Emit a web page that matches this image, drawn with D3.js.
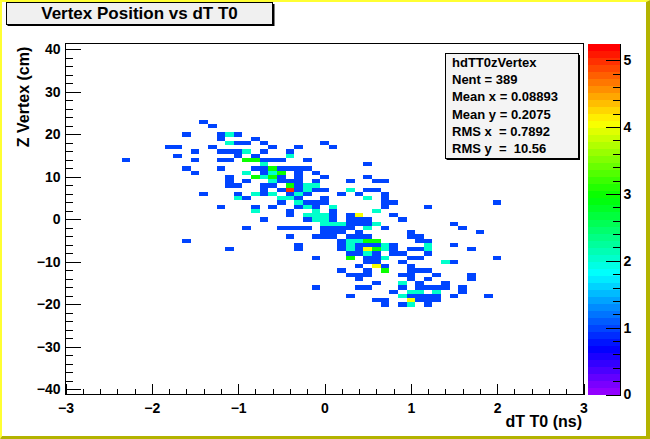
<!DOCTYPE html>
<html><head><meta charset="utf-8">
<script src="https://cdn.jsdelivr.net/npm/d3@7"></script>
<style>
html,body{margin:0;padding:0;background:#fff;}
svg{display:block;}
text{font-family:"Liberation Sans",Arial,Helvetica,sans-serif;font-weight:bold;fill:#000;}
</style></head><body>
<svg id="c" width="650" height="439"></svg>
<script>
// ---- data (bin centres: x in ns, y in cm, entries per bin) ----
const rowY = [23,22,20,19,18,17,16,15,14,13,12,11,10,9,8,7,6,5,4,3,2,1,0,-1,-2,-3,-4,-5,-6,-7,-8,-9,-10,-11,-12,-13,-14,-15,-16,-17,-18,-19,-20];
const rowX = [
 [-1.4],
 [-1.3],
 [-1.6,-1.2,-1.1,-1.0],
 [-1.2,-0.8],
 [-1.1,-1.0,-0.9,-0.7,0.0],
 [-1.8,-1.7,-1.3,-0.6,-0.3,0.1],
 [-1.5,-1.2,-1.1,-1.0,-0.9,-0.7,-0.4],
 [-1.7,-1.0,-0.8,-0.4],
 [-2.3,-1.5,-1.2,-1.1,-0.9,-0.8,-0.7,-0.6,-0.5,-0.2],
 [-0.7,0.5],
 [-1.6,-1.2,-0.8,-0.7,-0.6,-0.5,-0.4,-0.3,-0.2],
 [-1.5,-0.9,-0.7,-0.6,-0.5,-0.3,-0.1],
 [-1.1,-0.8,-0.7,-0.6,-0.5,-0.3,0.0,0.5],
 [-1.1,-0.9,-0.6,-0.5,-0.4,-0.3,-0.1,0.3,0.6,0.7],
 [-1.1,-1.0,-0.7,-0.6,-0.4,-0.3,-0.2,-0.1],
 [-0.7,-0.5,-0.4,-0.3,-0.2,-0.1,0.0,0.3,0.5,0.6],
 [-1.4,-1.0,-0.8,-0.7,-0.6,-0.4,-0.3,-0.2,0.2,0.4,0.7],
 [-1.0,-0.9,-0.5,-0.4,-0.3,0.0,0.5,0.7],
 [-0.5,-0.3,-0.2,-0.1,0.0,0.7,0.8,2.0],
 [-1.2,-0.8,-0.6,-0.3,-0.2,-0.1,0.1,0.7,1.2],
 [-0.8,-0.4,-0.1,0.1,0.6],
 [-0.4,-0.2,-0.1,0.0,0.1,0.3,0.4,0.8],
 [-0.7,-0.2,-0.1,0.0,0.1,0.3,0.4,0.5,0.9],
 [0.0,0.1,0.2,0.3,0.4,0.5,0.6,1.5],
 [-0.9,-0.5,-0.4,-0.3,-0.2,0.0,0.1,0.2,0.3,0.5,0.7,1.6],
 [0.0,0.1,0.2,0.4,1.0,1.8],
 [-0.4,-0.1,0.0,0.1,0.3,0.4,0.5,1.0,1.1],
 [-1.6,0.2,0.3,0.4,0.5,0.6,1.1,1.2],
 [-0.3,0.2,0.3,0.4,0.5,0.6,0.7,0.8,1.2,1.5],
 [-1.1,-0.3,0.2,0.3,0.4,0.5,0.6,0.7,0.8,1.0,1.1,1.2,1.7],
 [0.3,0.4,0.5,0.6,0.8,0.9,1.2],
 [-0.1,0.3,0.5,0.6,0.7,1.0,1.1,2.0],
 [0.5,0.6,0.9,1.4,1.5],
 [0.4,0.6,0.7,1.0],
 [0.2,0.5,0.7,1.0,1.1,1.2],
 [0.3,0.4,0.5,0.9,1.0,1.3,1.7],
 [0.4,1.0,1.2,1.7],
 [0.6,0.9,1.1,1.4],
 [-0.1,0.4,0.5,0.9,1.1,1.2,1.3,1.4,1.6],
 [0.8,1.0,1.1,1.3,1.6],
 [0.3,0.9,1.0,1.1,1.2,1.3,1.5,1.9],
 [0.6,0.7,1.0,1.1,1.2,1.3],
 [0.7,0.9,1.0,1.2]
];
const rowN = [
 [1],
 [1],
 [1,1,2,1],
 [1,1],
 [2,1,1,1,1],
 [1,1,1,1,1,1],
 [1,1,1,1,2,1,1],
 [1,1,1,2],
 [1,1,1,1,3,3,1,1,1,1],
 [2,1],
 [1,1,1,1,3,1,1,1,1],
 [1,2,1,2,3,1,1],
 [1,3,2,3,1,1,1,1],
 [1,1,2,1,1,1,1,1,1,1],
 [1,1,1,1,3,1,2,2],
 [1,1,5,1,2,1,1,2,1,1],
 [1,1,2,1,2,1,2,1,1,1,1],
 [2,1,2,2,1,1,2,1],
 [1,2,1,1,1,1,1,1],
 [1,1,1,1,2,1,2,1,1],
 [2,1,2,1,2],
 [1,2,2,2,1,1,4,1],
 [1,1,2,2,1,1,1,1,1],
 [2,2,2,1,1,1,2,1],
 [1,1,1,1,1,1,1,1,1,2,1,1],
 [1,1,1,1,1,1],
 [1,1,1,1,1,1,1,1,1],
 [1,1,2,2,3,3,1,1],
 [1,1,2,1,1,1,2,1,2,1],
 [1,1,1,2,1,4,3,2,1,1,1,2,1],
 [1,1,2,1,1,1,1],
 [1,3,1,1,2,1,1,1],
 [1,1,1,2,1],
 [1,4,1,1],
 [1,1,3,1,1,1],
 [1,1,1,1,1,1,1],
 [1,1,1,1],
 [1,2,1,1],
 [1,1,1,1,1,1,1,1,1],
 [1,2,2,2,1],
 [1,2,1,1,1,1,1,1],
 [1,1,4,1,1,1],
 [1,1,2,1]
];
const binWidthX = 0.1, binWidthY = 1;
const xTicks = [-3,-2,-1,0,1,2,3];
const yTicks = [-40,-30,-20,-10,0,10,20,30,40];
const zTicks = [0,1,2,3,4,5];
const zMax = 5.25;
const nColors = 50;
const titleText = "Vertex Position vs dT T0";
const xTitle = "dT T0 (ns)";
const yTitle = "Z Vertex (cm)";
const statLines = ["hdTT0zVertex","Nent = 389","Mean x = 0.08893","Mean y = 0.2075","RMS x  = 0.7892","RMS y  =  10.56"];

// ---- build cells ----
const cells = [];
rowY.forEach((yv,i)=>rowX[i].forEach((xv,j)=>cells.push({x:xv,y:yv,n:rowN[i][j]})));

const svg = d3.select("#c");
const W=650,H=439;
const fx0=65.5, fx1=583.5, fy0=43.5, fy1=394.5;
const x = d3.scaleLinear().domain([-3,3]).range([fx0,fx1]);
const y = d3.scaleLinear().domain([-41.2,41.4]).range([fy1,fy0]);
const z = d3.scaleLinear().domain([0,zMax]).range([fy1,fy0]);
const palette = d3.range(nColors).map(i=>d3.hsl(280-(i+1)*280/nColors,1,0.5).formatHex());
const colorOf = v => palette[Math.min(nColors-1, Math.floor(0.01 + v*nColors/zMax))];
const intFmt = d3.format("d");

// canvas background + bevel border
svg.append("rect").attr("width",W).attr("height",H).attr("fill","#fff");
svg.append("polygon").attr("points",`0,0 ${W},0 ${W-4},2 2,2 2,${H-3} 0,${H}`).attr("fill","#ffff33");
svg.append("polygon").attr("points",`${W},0 ${W},${H} 0,${H} 2,${H-3} ${W-4},${H-3} ${W-4},2`).attr("fill","#b3b300");

// cells
svg.append("g").attr("shape-rendering","crispEdges").selectAll("rect").data(cells).join("rect")
  .attr("x",d=>x(d.x-binWidthX/2))
  .attr("width",d=>x(d.x+binWidthX/2)-x(d.x-binWidthX/2))
  .attr("y",d=>y(d.y+binWidthY/2))
  .attr("height",d=>y(d.y-binWidthY/2)-y(d.y+binWidthY/2))
  .attr("fill",d=>colorOf(d.n));

// frame
svg.append("rect").attr("x",fx0).attr("y",fy0).attr("width",fx1-fx0).attr("height",fy1-fy0)
  .attr("fill","none").attr("stroke","#000").attr("stroke-width",1).attr("shape-rendering","crispEdges");

// y axis
const yMinor = d3.range(-40,41,2).filter(v=>v%10!==0);
svg.append("g").attr("transform",`translate(${fx0},0)`)
  .call(d3.axisLeft(y).tickValues(yMinor).tickSize(-7.5).tickSizeOuter(0).tickFormat(""))
  .call(g=>g.select(".domain").remove());
svg.append("g").attr("transform",`translate(${fx0},0)`)
  .call(d3.axisLeft(y).tickValues(yTicks).tickSize(-15).tickSizeOuter(0).tickPadding(5).tickFormat(intFmt))
  .call(g=>g.select(".domain").remove())
  .call(g=>g.selectAll("text").attr("font-size",14).attr("font-family",null));
// x axis
const xMinor = d3.range(-30,31,2).map(v=>v/10).filter(v=>Math.abs(v-Math.round(v))>1e-6);
svg.append("g").attr("transform",`translate(0,${fy1})`)
  .call(d3.axisBottom(x).tickValues(xMinor).tickSize(-5.5).tickSizeOuter(0).tickFormat(""))
  .call(g=>g.select(".domain").remove());
svg.append("g").attr("transform",`translate(0,${fy1})`)
  .call(d3.axisBottom(x).tickValues(xTicks).tickSize(-10.5).tickSizeOuter(0).tickPadding(9).tickFormat(intFmt))
  .call(g=>g.select(".domain").remove())
  .call(g=>g.selectAll("text").attr("font-size",14).attr("font-family",null));

// axis titles
svg.append("text").attr("x",582).attr("y",427).attr("text-anchor","end").attr("font-size",16).text(xTitle);
svg.append("text").attr("transform","translate(28.5,46.7) rotate(-90)").attr("text-anchor","end").attr("font-size",16).text(yTitle);

// colour bar
const cbx0=587.5, cbx1=620.5;
svg.append("g").attr("shape-rendering","crispEdges").selectAll("rect").data(d3.range(nColors)).join("rect")
  .attr("x",cbx0).attr("width",cbx1-cbx0)
  .attr("y",i=>z((i+1)*zMax/nColors)).attr("height",i=>z(i*zMax/nColors)-z((i+1)*zMax/nColors)+0.5)
  .attr("fill",i=>palette[i]);
const zMinor = d3.range(0,26).map(v=>v/5).filter(v=>Math.abs(v-Math.round(v))>1e-6 && v<=zMax);
svg.append("g").attr("transform",`translate(${cbx1},0)`)
  .call(d3.axisRight(z).tickValues(zMinor).tickSize(-8).tickSizeOuter(0).tickFormat(""))
  .call(g=>g.select(".domain").remove());
svg.append("g").attr("transform",`translate(${cbx1},0)`)
  .call(d3.axisRight(z).tickValues(zTicks).tickSize(-15).tickSizeOuter(0).tickPadding(3).tickFormat(intFmt))
  .call(g=>g.select(".domain").attr("d",`M0,${fy0}V${fy1}`))
  .call(g=>g.selectAll("text").attr("font-size",14).attr("font-family",null));
svg.selectAll(".tick line, .domain").attr("shape-rendering","crispEdges");

// title box
svg.append("rect").attr("x",7.5).attr("y",4).attr("width",267).attr("height",22).attr("fill","#000");
svg.append("rect").attr("x",6.5).attr("y",2.5).attr("width",266).attr("height",21.5).attr("fill","#f0f0f0").attr("stroke","#000").attr("shape-rendering","crispEdges");
svg.append("text").attr("x",139.5).attr("y",18.5).attr("text-anchor","middle").attr("font-size",17).text(titleText);

// stats box
svg.append("rect").attr("x",446.5).attr("y",55).attr("width",133.5).attr("height",105).attr("fill","#000");
svg.append("rect").attr("x",445.5).attr("y",53.5).attr("width",133).attr("height",105).attr("fill","#f4f4f4").attr("stroke","#000").attr("shape-rendering","crispEdges");
svg.append("g").selectAll("text").data(statLines).join("text")
  .attr("x",452).attr("y",(d,i)=>67+i*17.2).attr("font-size",13)
  .attr("xml:space","preserve").style("white-space","pre").text(d=>d);
</script>
</body></html>
